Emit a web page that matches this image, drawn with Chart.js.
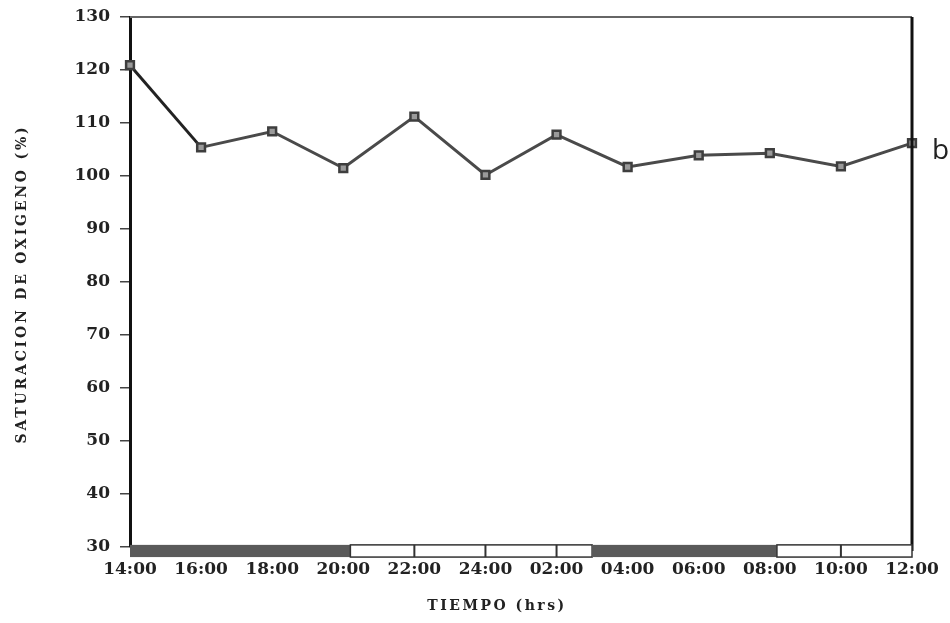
<!DOCTYPE html>
<html>
<head>
<meta charset="utf-8">
<script src="https://cdn.jsdelivr.net/npm/chart.js@4.4.1/dist/chart.umd.min.js"></script>
<style>
  html, body { margin: 0; padding: 0; background: #fff; }
  #wrap { width: 950px; height: 623px; position: relative; }
</style>
</head>
<body>
<div id="wrap"><canvas id="c" width="950" height="623"></canvas></div>
<script>
// ---- data ----
const timeLabels = ['14:00','16:00','18:00','20:00','22:00','24:00','02:00','04:00','06:00','08:00','10:00','12:00'];
const saturation = [120.9, 105.4, 108.4, 101.5, 111.2, 100.2, 107.8, 101.7, 103.9, 104.3, 101.8, 106.2];
const yTicks = [30, 40, 50, 60, 70, 80, 90, 100, 110, 120, 130];
// light/dark cycle bar (positions in category index units)
const phaseStart = [0, 3.1, 6.5, 9.1];
const phaseEnd   = [3.1, 6.5, 9.1, 11];
const phaseDark  = [true, false, true, false];
const phaseDividers = [4, 5, 6, 10];
const seriesTag = 'b';
const yTitle = 'SATURACION DE OXIGENO (%)';
const xTitle = 'TIEMPO (hrs)';

const serifFamily = "'DejaVu Serif', 'Liberation Serif', serif";
const serifBold = { family: serifFamily, weight: 'bold' };

const framePlugin = {
  id: 'frame',
  afterDatasetsDraw(chart) {
    const { ctx, chartArea: a, scales } = chart;
    const x = scales.x, y = scales.y;
    ctx.save();
    // top border (thin gray)
    ctx.strokeStyle = '#666';
    ctx.lineWidth = 2;
    ctx.beginPath();
    ctx.moveTo(a.left, a.top);
    ctx.lineTo(a.right, a.top);
    ctx.stroke();
    // right border (thick)
    ctx.strokeStyle = '#111';
    ctx.lineWidth = 3;
    ctx.beginPath();
    ctx.moveTo(a.right, a.top);
    ctx.lineTo(a.right, a.bottom + 4);
    ctx.stroke();
    // light/dark bar
    const yTop = y.getPixelForValue(30.4);
    const yBot = y.getPixelForValue(28.1);
    for (let i = 0; i < phaseStart.length; i++) {
      const x0 = x.getPixelForValue(phaseStart[i]);
      const x1 = x.getPixelForValue(phaseEnd[i]);
      if (phaseDark[i]) {
        ctx.fillStyle = '#5a5a5a';
        ctx.fillRect(x0, yTop, x1 - x0, yBot - yTop);
      } else {
        ctx.fillStyle = '#fff';
        ctx.fillRect(x0, yTop, x1 - x0, yBot - yTop);
        ctx.strokeStyle = '#333';
        ctx.lineWidth = 1.5;
        ctx.strokeRect(x0, yTop, x1 - x0, yBot - yTop);
      }
    }
    ctx.strokeStyle = '#333';
    ctx.lineWidth = 2;
    phaseDividers.forEach(v => {
      const px = x.getPixelForValue(v);
      ctx.beginPath();
      ctx.moveTo(px, yTop);
      ctx.lineTo(px, yBot);
      ctx.stroke();
    });
    // series tag
    const last = saturation.length - 1;
    ctx.fillStyle = '#222';
    ctx.font = "28px 'Open Sans', 'Liberation Sans', sans-serif";
    ctx.textAlign = 'left';
    ctx.textBaseline = 'middle';
    ctx.fillText(seriesTag, a.right + 20, y.getPixelForValue(saturation[last]) + 8);

    // axis titles (letter-spaced)
    ctx.fillStyle = '#222';
    ctx.textAlign = 'center';
    ctx.textBaseline = 'middle';
    ctx.font = "bold 14px " + serifFamily;
    ctx.letterSpacing = '2.5px';
    ctx.fillText(xTitle, (a.left + a.right) / 2 - 24, 606);
    ctx.save();
    ctx.translate(22, (a.top + a.bottom) / 2 + 2);
    ctx.rotate(-Math.PI / 2);
    ctx.letterSpacing = '2.8px';
    ctx.fillText(yTitle, 0, 0);
    ctx.restore();
    ctx.restore();
  }
};

new Chart(document.getElementById('c'), {
  type: 'line',
  data: {
    labels: timeLabels,
    datasets: [{
      data: saturation,
      borderColor: '#4a4a4a',
      borderWidth: 3,
      pointStyle: 'rect',
      pointRadius: 5.5,
      pointBackgroundColor: '#9a9a9a',
      pointBorderColor: '#3e3e3e',
      pointBorderWidth: 2.5,
      tension: 0,
      clip: false,
      segment: {
        borderColor: ctx => ctx.p0DataIndex === 0 ? '#222' : '#4a4a4a'
      }
    }]
  },
  options: {
    responsive: false,
    animation: false,
    events: [],
    layout: { padding: { top: 17, right: 38, left: 10, bottom: 4 } },
    plugins: { legend: { display: false }, tooltip: { enabled: false } },
    scales: {
      x: {
        type: 'category',
        offset: false,
        grid: { display: false },
        border: { display: false },
        ticks: {
          color: '#222',
          padding: 4,
          maxRotation: 0,
          autoSkip: false,
          font: { ...serifBold, size: 17 }
        },
        title: { display: false },
        afterFit(scale) { scale.height = 72; scale.paddingLeft = 0; scale.paddingRight = 0; }
      },
      y: {
        min: 30,
        max: 130,
        afterBuildTicks(scale) { scale.ticks = yTicks.map(v => ({ value: v })); },
        grid: { drawOnChartArea: false, tickLength: 10, color: '#444', lineWidth: 1.5 },
        border: { display: true, color: '#111', width: 3 },
        ticks: {
          color: '#222',
          padding: 10,
          font: { ...serifBold, size: 17 }
        },
        title: { display: false },
        afterFit(scale) { scale.width = 120; scale.paddingTop = 0; scale.paddingBottom = 0; }
      }
    }
  },
  plugins: [framePlugin]
});
</script>
</body>
</html>
